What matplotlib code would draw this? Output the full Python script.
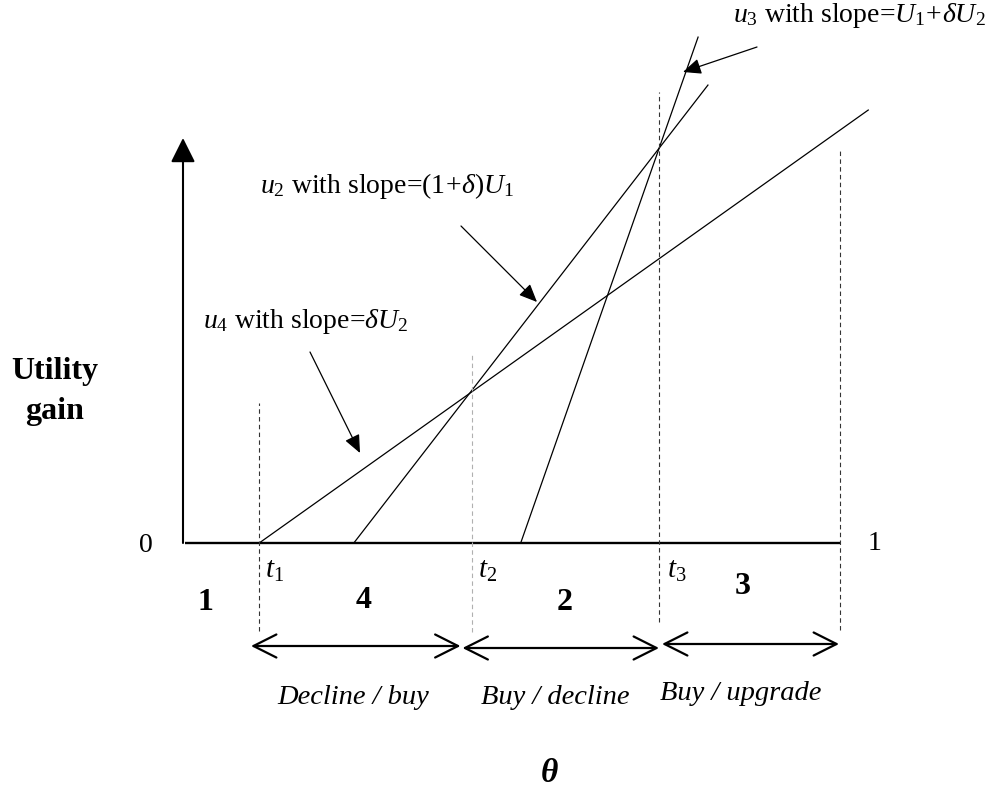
import numpy as np
import matplotlib
matplotlib.use("Agg")
import matplotlib.pyplot as plt
from matplotlib.patches import FancyArrowPatch

plt.rcParams['font.family'] = ['Liberation Serif', 'DejaVu Serif']
plt.rcParams['mathtext.fontset'] = 'custom'
plt.rcParams['mathtext.rm'] = 'Liberation Serif'
plt.rcParams['mathtext.it'] = 'Liberation Serif:italic'
plt.rcParams['mathtext.bf'] = 'Liberation Serif:bold'

# valores de los umbrales t1, t2, t3
thresholds = [0.116, 0.440, 0.725]
threshold_names = [r"$t_{\mathit{1}}$", r"$t_{\mathit{2}}$", r"$t_{\mathit{3}}$"]

# rectas de utilidad (theta, ganancia)
u4_theta = [0.116, 1.043]
u4_gain = [0.0, 0.659]
u2_theta = [0.260, 0.799]
u2_gain = [0.0, 0.697]
u3_theta = [0.514, 0.784]
u3_gain = [0.0, 0.770]

# lineas guia verticales
guide_theta = [0.116, 0.440, 0.725, 1.0]
guide_top = [0.213, 0.288, 0.686, 0.598]
guide_bottom = [-0.134, -0.135, -0.121, -0.132]
guide_colors = ["#333333", "#b0b0b0", "#333333", "#333333"]

# regiones y bandas de decision
region_names = ["1", "4", "2", "3"]
band_start = [0.1035, 0.4254, 0.7291]
band_end = [0.4224, 0.7245, 0.9985]
band_labels = ["Decline / buy", "Buy / decline", "Buy / upgrade"]

# etiquetas de las rectas
line_labels = [r"$u_{\mathit{4}}$ with slope=$\delta U_{\mathit{2}}$",
               r"$u_{\mathit{2}}$ with slope=$(\mathit{1}\!+\!\delta)U_{\mathit{1}}$",
               r"$u_{\mathit{3}}$ with slope=$U_{\mathit{1}}\!+\!\delta U_{\mathit{2}}$"]

# conversion de pixeles a coordenadas (0 en x=183, 1 en x=840, eje en y=543)
SC = 657.0
def P(px, py):
    return ((px - 183) / SC, (543 - py) / SC)

fig = plt.figure(figsize=(9.9, 7.96), dpi=100)
ax = fig.add_axes([0, 0, 1, 1])
ax.set_xlim(-183 / SC, (990 - 183) / SC)
ax.set_ylim((543 - 796) / SC, 543 / SC)
ax.axis("off")

# ejes
ax.plot([0.003, 1.0], [0, 0], color="black", lw=1.7, solid_capstyle="butt")
ax.add_patch(FancyArrowPatch((0, 0), P(183, 138), arrowstyle="-|>,head_length=15,head_width=7.5",
                             mutation_scale=1, color="black", lw=1.5, shrinkA=0, shrinkB=0))

# rectas
for th, g in [(u4_theta, u4_gain), (u2_theta, u2_gain), (u3_theta, u3_gain)]:
    ax.plot(th, g, color="black", lw=0.9)

# guias punteadas
for x, top, bot, c in zip(guide_theta, guide_top, guide_bottom, guide_colors):
    ax.plot([x, x], [bot, top], color=c, lw=0.8, ls=(0, (4, 3)))

# textos de las rectas con flechas
label_pos = [P(203, 328), P(260, 193), P(733, 22)]
arrow_tail = [P(310, 352), P(461, 226), P(757, 47)]
arrow_tip = [P(360, 453), P(537, 302), P(683, 72)]
for lab, pos, tail, tip in zip(line_labels, label_pos, arrow_tail, arrow_tip):
    ax.text(pos[0], pos[1], lab, fontsize=20, ha="left", va="baseline")
    ax.add_patch(FancyArrowPatch(tail, tip, arrowstyle="-|>,head_length=11,head_width=4.8",
                                 mutation_scale=1, color="black", lw=0.9, shrinkA=0, shrinkB=0))

# etiquetas de ejes
ax.text(*P(55, 372), "Utility", fontsize=23, fontweight="bold", ha="center", va="center")
ax.text(*P(55, 412), "gain", fontsize=23, fontweight="bold", ha="center", va="center")
ax.text(*P(146, 545), "0", fontsize=20, ha="center", va="center")
ax.text(*P(875, 543), "1", fontsize=20, ha="center", va="center")
ax.text(*P(549, 773), "θ", fontsize=24, ha="center", va="center",
        fontweight="bold", fontstyle="italic")

# t1, t2, t3
t_left = [265, 478, 667]
for name, xl in zip(threshold_names, t_left):
    ax.text(*P(xl, 578), name, fontsize=21, ha="left", va="baseline")

# numeros de region
region_pos = [P(205, 602), P(364, 601), P(565, 602), P(743, 587)]
for name, pos in zip(region_names, region_pos):
    ax.text(pos[0], pos[1], name, fontsize=23, fontweight="bold", ha="center", va="center")

# flechas dobles y textos de decision
band_y = [P(0, 646)[1], P(0, 648)[1], P(0, 644)[1]]
band_text = [P(353, 697), P(555, 698), P(741, 694)]
for a, b, y, lab, tp in zip(band_start, band_end, band_y, band_labels, band_text):
    ax.add_patch(FancyArrowPatch((a, y), (b, y), arrowstyle="<->,head_length=16.5,head_width=8.3",
                                 mutation_scale=1, color="black", lw=1.6, shrinkA=0, shrinkB=0))
    ax.text(tp[0], tp[1], lab, fontsize=20.5, fontstyle="italic", ha="center", va="center")

fig.savefig("out.png", dpi=100)
